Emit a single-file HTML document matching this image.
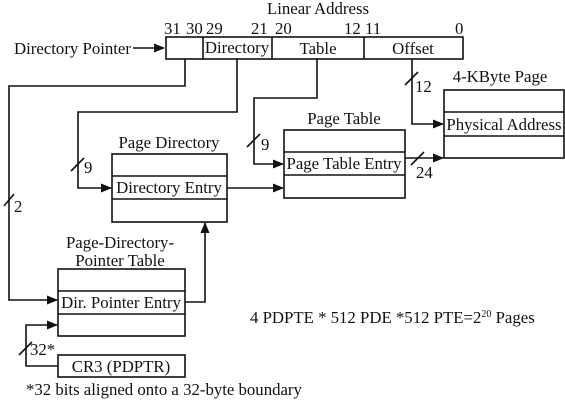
<!DOCTYPE html>
<html><head><meta charset="utf-8"><style>
html,body{margin:0;padding:0;background:#fff;}
svg{display:block;}
text{font-family:"Liberation Serif",serif;font-size:16.8px;fill:#111;}
</style></head><body>
<svg width="565" height="402" viewBox="0 0 565 402" xmlns="http://www.w3.org/2000/svg">
<defs><marker id="a" markerWidth="11" markerHeight="9" refX="10" refY="4.5" orient="auto" markerUnits="userSpaceOnUse"><path d="M0,0 L11,4.5 L0,9 z" fill="#111"/></marker></defs>
<g stroke="#111" stroke-width="1.6" fill="none">
<rect x="166" y="37" width="297" height="22"/>
<line x1="203" y1="37" x2="203" y2="59"/><line x1="272" y1="37" x2="272" y2="59"/><line x1="364" y1="37" x2="364" y2="59"/>
<line x1="133" y1="48" x2="164" y2="48" marker-end="url(#a)"/>
<rect x="444" y="90" width="120" height="68"/>
<line x1="444" y1="112" x2="564" y2="112"/><line x1="444" y1="136" x2="564" y2="136"/>
<rect x="284" y="130" width="121" height="68"/>
<line x1="284" y1="152" x2="405" y2="152"/><line x1="284" y1="175" x2="405" y2="175"/>
<rect x="112" y="154" width="115" height="68"/>
<line x1="112" y1="176" x2="227" y2="176"/><line x1="112" y1="199" x2="227" y2="199"/>
<rect x="58" y="269" width="127" height="67"/>
<line x1="58" y1="291" x2="185" y2="291"/><line x1="58" y1="314" x2="185" y2="314"/>
<rect x="58" y="355" width="127" height="22"/>
<polyline points="185,59 185,86 9,86 9,300 57,300" marker-end="url(#a)"/>
<polyline points="237,59 237,112 78,112 78,188 111,188" marker-end="url(#a)"/>
<polyline points="317,59 317,98 254,98 254,164 283,164" marker-end="url(#a)"/>
<polyline points="412,59 412,124 443,124" marker-end="url(#a)"/>
<line x1="405" y1="158" x2="443" y2="158" marker-end="url(#a)"/>
<line x1="227" y1="188" x2="283" y2="188" marker-end="url(#a)"/>
<polyline points="185,302 205,302 205,223" marker-end="url(#a)"/>
<polyline points="58,366 26,366 26,325 57,325" marker-end="url(#a)"/>
<line x1="4" y1="206" x2="14" y2="194"/>
<line x1="71" y1="171" x2="84" y2="158"/>
<line x1="247" y1="147" x2="260" y2="134"/>
<line x1="405" y1="85" x2="418" y2="72"/>
<line x1="411" y1="165" x2="424" y2="152"/>
<line x1="19" y1="355" x2="32" y2="342"/>
</g>
<text x="318" y="14" text-anchor="middle">Linear Address</text>
<text x="164" y="34">31</text><text x="186" y="34">30</text><text x="206" y="34">29</text>
<text x="251" y="34">21</text><text x="275" y="34">20</text><text x="344" y="34">12</text>
<text x="365" y="34">11</text><text x="455" y="34">0</text>
<text x="14" y="54">Directory Pointer</text>
<text x="237" y="53" text-anchor="middle">Directory</text>
<text x="318" y="54" text-anchor="middle">Table</text>
<text x="413" y="54" text-anchor="middle">Offset</text>
<text x="500" y="82" text-anchor="middle">4-KByte Page</text>
<text x="504" y="130" text-anchor="middle">Physical Address</text>
<text x="344" y="124" text-anchor="middle">Page Table</text>
<text x="344" y="169" text-anchor="middle">Page Table Entry</text>
<text x="169" y="148" text-anchor="middle">Page Directory</text>
<text x="169" y="193" text-anchor="middle">Directory Entry</text>
<text x="120" y="248" text-anchor="middle">Page-Directory-</text>
<text x="120" y="266" text-anchor="middle">Pointer Table</text>
<text x="121" y="308" text-anchor="middle">Dir. Pointer Entry</text>
<text x="121" y="372" text-anchor="middle">CR3 (PDPTR)</text>
<text x="14" y="212">2</text>
<text x="84" y="173">9</text>
<text x="261" y="150">9</text>
<text x="415" y="92">12</text>
<text x="416" y="178">24</text>
<text x="30" y="355">32*</text>
<text x="26" y="395">*32 bits aligned onto a 32-byte boundary</text>
<text x="250" y="323">4 PDPTE * 512 PDE *512 PTE=2<tspan font-size="10" dy="-6">20</tspan><tspan dy="6"> Pages</tspan></text>
</svg>
</body></html>
